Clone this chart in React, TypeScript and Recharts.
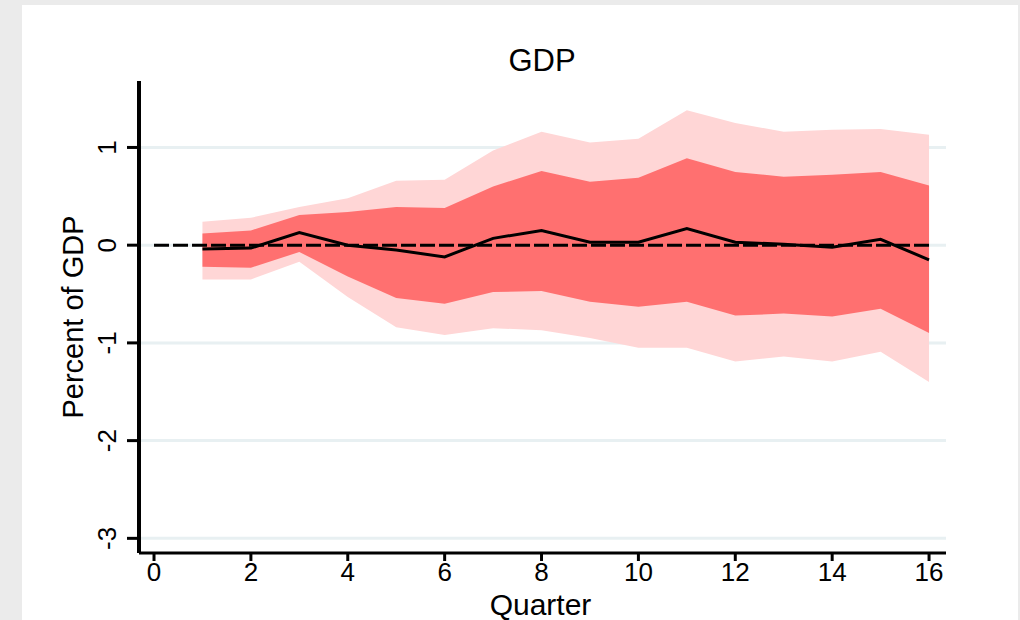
import React from "react"
import { ComposedChart, Area, Line, XAxis, YAxis, CartesianGrid, ReferenceLine, Label } from "recharts"

// impulse response of GDP, quarters 1..16
const quarters = [1, 2, 3, 4, 5, 6, 7, 8, 9, 10, 11, 12, 13, 14, 15, 16]
const irf = [-0.04, -0.03, 0.13, 0.0, -0.05, -0.12, 0.07, 0.15, 0.03, 0.03, 0.17, 0.03, 0.01, -0.02, 0.06, -0.15]
const innerLo = [-0.22, -0.23, -0.07, -0.32, -0.54, -0.6, -0.48, -0.47, -0.58, -0.63, -0.58, -0.72, -0.7, -0.73, -0.65, -0.9]
const innerHi = [0.12, 0.15, 0.31, 0.34, 0.39, 0.38, 0.6, 0.76, 0.65, 0.69, 0.89, 0.75, 0.7, 0.72, 0.75, 0.61]
const outerLo = [-0.35, -0.35, -0.17, -0.53, -0.84, -0.92, -0.85, -0.87, -0.95, -1.05, -1.05, -1.19, -1.14, -1.19, -1.09, -1.4]
const outerHi = [0.24, 0.28, 0.39, 0.48, 0.66, 0.67, 0.97, 1.16, 1.05, 1.09, 1.38, 1.25, 1.16, 1.18, 1.19, 1.13]

const xTicks = [0, 2, 4, 6, 8, 10, 12, 14, 16]
const yTicks = [-3, -2, -1, 0, 1]
const zeroSpan = [0, 16]
const yDomain = [-3.15, 1.68]

const font = '"Liberation Sans", Arial, sans-serif'

const data = quarters.map((q, i) => ({
  q,
  outer: [outerLo[i], outerHi[i]],
  inner: [innerLo[i], innerHi[i]],
  irf: irf[i],
}))

function YTick(props: any) {
  const { x, y, payload } = props
  return (
    <text
      transform={`translate(${x - 9}, ${y}) rotate(-90)`}
      textAnchor="middle"
      fontSize={26}
      fontFamily={font}
      fill="#000"
    >
      {payload.value}
    </text>
  )
}

// grid rows only at the y ticks (no line on the plot border)
const gridRows = (p: any) => {
  const s = p?.yAxis?.scale
  if (typeof s === "function") return yTicks.map((v) => s(v))
  if (s && typeof s.map === "function") return yTicks.map((v) => s.map(v))
  const off = p?.offset || {}
  return yTicks.map((v) => off.top + ((yDomain[1] - v) / (yDomain[1] - yDomain[0])) * off.height)
}

export default function App() {
  return (
    <div style={{ position: "absolute", left: 0, top: 0, width: 1020, height: 620, background: "#ebebeb", overflow: "hidden" }}>
      {/* white plot region */}
      <div style={{ position: "absolute", left: 22, top: 5, width: 996, height: 620, background: "#ffffff" }} />
      <div
        style={{
          position: "absolute",
          left: 442,
          top: 45,
          width: 200,
          textAlign: "center",
          fontFamily: font,
          fontSize: 31,
          lineHeight: "31px",
          color: "#000",
        }}
      >
        GDP
      </div>
      <div style={{ position: "absolute", left: 0, top: 0 }}>
        <ComposedChart width={1020} height={620} data={data} margin={{ top: 81, right: 74, left: 79, bottom: 7 }}>
          <CartesianGrid vertical={false} stroke="#e8f0f2" strokeWidth={3} horizontalCoordinatesGenerator={gridRows} />
          <XAxis
            type="number"
            dataKey="q"
            domain={[-0.31, 16.35]}
            ticks={xTicks}
            allowDataOverflow
            height={60}
            axisLine={{ stroke: "#000", strokeWidth: 3 }}
            tickLine={{ stroke: "#000", strokeWidth: 3 }}
            tickSize={8}
            tickMargin={2}
            tick={{ fontSize: 26, fill: "#000", fontFamily: font }}
          >
            <Label
              content={(p: any) => {
                const vb = p.viewBox || {}
                return (
                  <text x={vb.x + vb.width / 2 - 2} y={vb.y + 62} textAnchor="middle" fontSize={30} fontFamily={font} fill="#000">
                    Quarter
                  </text>
                )
              }}
            />
          </XAxis>
          <YAxis
            type="number"
            domain={yDomain}
            ticks={yTicks}
            allowDataOverflow
            width={60}
            axisLine={{ stroke: "#000", strokeWidth: 4 }}
            tickLine={{ stroke: "#000", strokeWidth: 3 }}
            tickSize={12}
            tick={<YTick />}
          >
            <Label
              content={(p: any) => {
                const vb = p.viewBox || {}
                const cx = vb.x + 4
                const cy = vb.y + vb.height / 2
                return (
                  <text transform={`translate(${cx}, ${cy}) rotate(-90)`} textAnchor="middle" fontSize={29} fontFamily={font} fill="#000">
                    Percent of GDP
                  </text>
                )
              }}
            />
          </YAxis>
          <Area dataKey="outer" type="linear" fill="#ffd6d6" fillOpacity={1} stroke="none" isAnimationActive={false} />
          <Area dataKey="inner" type="linear" fill="#ff7070" fillOpacity={1} stroke="none" isAnimationActive={false} />
          <ReferenceLine
            segment={[{ x: zeroSpan[0], y: 0 }, { x: zeroSpan[1], y: 0 }]}
            stroke="#000"
            strokeWidth={3}
            strokeDasharray="15 4"
          />
          <Line dataKey="irf" type="linear" stroke="#000" strokeWidth={3} dot={false} isAnimationActive={false} />
        </ComposedChart>
      </div>
    </div>
  )
}
